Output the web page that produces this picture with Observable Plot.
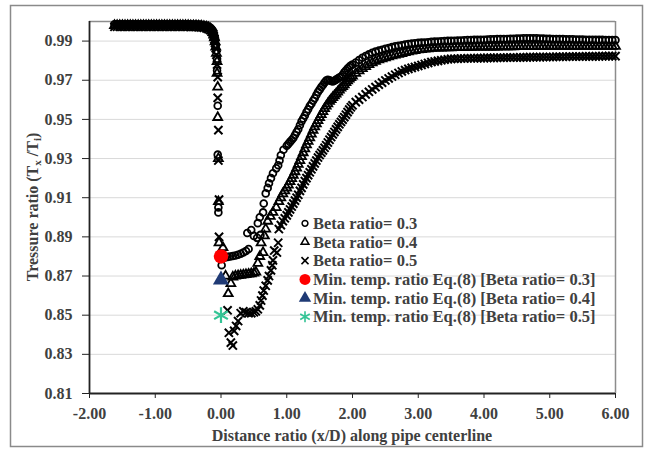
<!DOCTYPE html>
<html>
<head>
<meta charset="utf-8">
<script src="https://cdn.jsdelivr.net/npm/d3@7"></script>
<script src="https://cdn.jsdelivr.net/npm/@observablehq/plot@0.6"></script>
<style>
  html, body { margin: 0; padding: 0; background: #fff; }
</style>
</head>
<body>
<div id="chart"></div>
<script>
// ---------- data ----------
const xTicks = [-2, -1, 0, 1, 2, 3, 4, 5, 6];
const yTicks = [0.81, 0.83, 0.85, 0.87, 0.89, 0.91, 0.93, 0.95, 0.97, 0.99];

const seriesNames = ["Beta ratio= 0.3", "Beta ratio= 0.4", "Beta ratio= 0.5"];

// upstream plateau, shared x positions
const plateauX = [-1.62,-1.58,-1.54,-1.50,-1.46,-1.42,-1.38,-1.34,-1.30,-1.26,-1.22,-1.18,-1.14,-1.10,-1.06,-1.02,-0.98,-0.94,-0.90,-0.86,-0.82,-0.78,-0.74,-0.70,-0.66,-0.62,-0.58,-0.54,-0.50,-0.46,-0.42];
const plateauB03 = [0.9986,0.9986,0.9986,0.9986,0.9986,0.9986,0.9986,0.9986,0.9986,0.9986,0.9986,0.9986,0.9986,0.9986,0.9986,0.9986,0.9986,0.9986,0.9986,0.9986,0.9986,0.9986,0.9986,0.9986,0.9986,0.9986,0.9986,0.9986,0.9986,0.9986,0.9985];
const plateauB04 = [0.9980,0.9980,0.9980,0.9980,0.9980,0.9980,0.9980,0.9980,0.9980,0.9980,0.9980,0.9980,0.9980,0.9980,0.9980,0.9980,0.9980,0.9980,0.9980,0.9980,0.9980,0.9980,0.9980,0.9980,0.9980,0.9980,0.9980,0.9980,0.9980,0.9979,0.9979];
const plateauB05 = [0.9973,0.9973,0.9973,0.9973,0.9973,0.9973,0.9973,0.9973,0.9973,0.9973,0.9973,0.9973,0.9973,0.9973,0.9973,0.9973,0.9973,0.9973,0.9973,0.9973,0.9973,0.9973,0.9973,0.9973,0.9973,0.9973,0.9973,0.9973,0.9973,0.9972,0.9972];

// near the orifice: [x, y] pairs per series
const nearB03 = [[-0.38,0.9985],[-0.34,0.9984],[-0.30,0.9983],[-0.26,0.9981],[-0.22,0.9978],[-0.19,0.9974],[-0.16,0.9968],[-0.14,0.9960],[-0.12,0.9950],[-0.11,0.9938],[-0.10,0.9925],[-0.09,0.9905],[-0.08,0.9880],[-0.07,0.9850],[-0.06,0.9810],[-0.06,0.9750],[-0.05,0.9570],[-0.05,0.9320],[-0.04,0.9050],[-0.04,0.9025],
  [0.01,0.8755],[0.02,0.8790],[0.06,0.8795],[0.10,0.8798],[0.14,0.8800],[0.18,0.8802],[0.22,0.8805],[0.26,0.8809],[0.30,0.8814],[0.34,0.8820],[0.38,0.8828],[0.42,0.8838],[0.40,0.8920],[0.46,0.8935],[0.50,0.8905],[0.55,0.8895],[0.60,0.8910],[0.56,0.8970],[0.59,0.9000],[0.64,0.9025],[0.65,0.9070],[0.68,0.9122],[0.71,0.9150],[0.73,0.9174],[0.76,0.9200],[0.79,0.9225],[0.84,0.9250],[0.87,0.9266],[0.89,0.9290],[0.91,0.9317],[0.95,0.9345]];
const nearB04 = [[-0.38,0.9979],[-0.34,0.9978],[-0.30,0.9977],[-0.26,0.9975],[-0.22,0.9972],[-0.19,0.9968],[-0.16,0.9962],[-0.14,0.9954],[-0.12,0.9944],[-0.11,0.9931],[-0.10,0.9917],[-0.09,0.9897],[-0.08,0.9870],[-0.07,0.9838],[-0.06,0.9795],[-0.06,0.9735],[-0.05,0.9665],[-0.05,0.9510],[-0.04,0.9300],[-0.04,0.9080],[-0.03,0.8870],
  [0.03,0.8845],[0.07,0.8700],[0.11,0.8610],[0.15,0.8662],[0.18,0.8695],[0.22,0.8700],[0.26,0.8702],[0.30,0.8704],[0.34,0.8706],[0.38,0.8708],[0.42,0.8710],[0.46,0.8712],[0.50,0.8715],[0.53,0.8720],[0.56,0.8765],[0.59,0.8800],[0.64,0.8820],[0.61,0.8870],[0.66,0.8905],[0.68,0.8940],[0.71,0.8980],[0.75,0.9005],[0.79,0.9025],[0.84,0.9050],[0.88,0.9080],[0.91,0.9100],[0.94,0.9120],[0.97,0.9135]];
const nearB05 = [[-0.38,0.9972],[-0.34,0.9971],[-0.30,0.9970],[-0.26,0.9968],[-0.22,0.9965],[-0.19,0.9961],[-0.16,0.9955],[-0.14,0.9947],[-0.12,0.9937],[-0.11,0.9924],[-0.10,0.9909],[-0.09,0.9889],[-0.08,0.9863],[-0.07,0.9830],[-0.06,0.9780],[-0.05,0.9716],[-0.05,0.9610],[-0.04,0.9445],[-0.04,0.9290],[-0.03,0.9090],[-0.03,0.8900],
  [0.10,0.8525],[0.12,0.8410],[0.15,0.8360],[0.18,0.8345],[0.20,0.8420],[0.23,0.8445],[0.26,0.8470],[0.30,0.8510],[0.34,0.8520],[0.38,0.8515],[0.42,0.8510],[0.46,0.8510],[0.50,0.8515],[0.53,0.8520],[0.56,0.8530],[0.59,0.8550],[0.61,0.8575],[0.63,0.8600],[0.65,0.8626],[0.68,0.8650],[0.71,0.8678],[0.73,0.8700],[0.76,0.8729],[0.78,0.8755],[0.79,0.8780],[0.81,0.8830],[0.85,0.8820],[0.87,0.8870],[0.88,0.8940],[0.91,0.8960],[0.94,0.8980],[0.97,0.8995]];

// recovery region, shared x positions
const farX = [1.000,1.025,1.050,1.075,1.100,1.125,1.150,1.175,1.200,1.225,1.250,1.275,1.300,1.325,1.350,1.375,1.400,1.425,1.450,1.475,1.500,1.525,1.550,1.575,1.600,1.625,1.650,1.675,1.700,1.725,1.750,1.775,1.800,1.825,1.850,1.875,1.900,1.925,1.950,1.975,2.000,
  2.05,2.10,2.15,2.20,2.25,2.30,2.35,2.40,2.45,2.50,2.55,2.60,2.65,2.70,2.75,2.80,2.85,2.90,2.95,3.00,3.05,3.10,3.15,3.20,3.25,3.30,3.35,3.40,3.45,3.50,3.55,3.60,3.65,3.70,3.75,3.80,3.85,3.90,3.95,4.00,4.05,4.10,4.15,4.20,4.25,4.30,4.35,4.40,4.45,4.50,4.55,4.60,4.65,4.70,4.75,4.80,4.85,4.90,4.95,5.00,5.05,5.10,5.15,5.20,5.25,5.30,5.35,5.40,5.45,5.50,5.55,5.60,5.65,5.70,5.75,5.80,5.85,5.90,5.95,6.00];
const farB03 = [0.9365,0.9375,0.9385,0.9395,0.9405,0.9420,0.9435,0.9450,0.9470,0.9490,0.9505,0.9520,0.9538,0.9552,0.9568,0.9580,0.9595,0.9608,0.9625,0.9640,0.9652,0.9665,0.9676,0.9688,0.9698,0.9702,0.9700,0.9696,0.9694,0.9697,0.9703,0.9708,0.9714,0.9718,0.9728,0.9740,0.9750,0.9760,0.9768,0.9775,0.9780,
  0.9790,0.9803,0.9815,0.9824,0.9832,0.9840,0.9846,0.9851,0.9856,0.9861,0.9865,0.9869,0.9873,0.9876,0.9879,0.9882,0.9885,0.9887,0.9889,0.9891,0.9892,0.9893,0.9894,0.9896,0.9897,0.9898,0.9899,0.9900,0.9901,0.9902,
  0.9902,0.9903,0.9903,0.9904,0.9905,0.9905,0.9906,0.9906,0.9907,0.9907,0.9908,0.9909,0.9909,0.9910,0.9910,0.9911,0.9911,0.9912,0.9912,0.9913,
  0.9913,0.9914,0.9914,0.9914,0.9914,0.9914,0.9913,0.9913,0.9912,0.9912,0.9911,0.9911,0.9910,0.9910,0.9909,0.9909,0.9909,0.9908,0.9908,0.9908,
  0.9907,0.9907,0.9907,0.9906,0.9906,0.9906,0.9905,0.9905,0.9905,0.9905];
const farB04 = [0.9150,0.9165,0.9182,0.9198,0.9215,0.9233,0.9252,0.9271,0.9290,0.9310,0.9330,0.9350,0.9370,0.9388,0.9406,0.9425,0.9445,0.9462,0.9478,0.9494,0.9510,0.9525,0.9540,0.9555,0.9568,0.9580,0.9592,0.9602,0.9612,0.9621,0.9630,0.9640,0.9650,0.9660,0.9668,0.9677,0.9688,0.9697,0.9706,0.9714,0.9722,
  0.9735,0.9748,0.9760,0.9770,0.9780,0.9789,0.9797,0.9804,0.9810,0.9815,0.9820,0.9825,0.9829,0.9833,0.9837,0.9841,0.9845,0.9849,0.9852,0.9855,0.9857,0.9859,0.9861,0.9863,0.9864,0.9865,0.9865,0.9866,0.9866,0.9866,
  0.9867,0.9867,0.9867,0.9868,0.9868,0.9868,0.9869,0.9869,0.9869,0.9869,0.9870,0.9870,0.9870,0.9870,0.9871,0.9871,0.9871,0.9871,0.9871,0.9872,
  0.9872,0.9872,0.9872,0.9872,0.9872,0.9872,0.9872,0.9873,0.9873,0.9873,0.9873,0.9873,0.9873,0.9873,0.9873,0.9873,0.9873,0.9873,0.9873,0.9873,
  0.9873,0.9873,0.9873,0.9873,0.9873,0.9873,0.9873,0.9873,0.9873,0.9873];
const farB05 = [0.9010,0.9025,0.9040,0.9055,0.9070,0.9085,0.9100,0.9115,0.9135,0.9150,0.9168,0.9185,0.9200,0.9215,0.9230,0.9245,0.9260,0.9275,0.9290,0.9305,0.9318,0.9330,0.9342,0.9355,0.9368,0.9382,0.9396,0.9410,0.9423,0.9436,0.9449,0.9462,0.9475,0.9487,0.9499,0.9511,0.9524,0.9537,0.9550,0.9562,0.9572,
  0.9588,0.9601,0.9614,0.9628,0.9641,0.9653,0.9665,0.9677,0.9688,0.9699,0.9709,0.9719,0.9728,0.9737,0.9745,0.9752,0.9758,0.9763,0.9768,0.9773,0.9778,0.9783,0.9788,0.9793,0.9796,0.9799,0.9802,0.9805,0.9807,0.9809,
  0.9810,0.9810,0.9811,0.9811,0.9812,0.9812,0.9812,0.9813,0.9813,0.9813,0.9814,0.9814,0.9814,0.9815,0.9815,0.9815,0.9816,0.9816,0.9816,0.9816,
  0.9817,0.9817,0.9817,0.9818,0.9818,0.9818,0.9818,0.9819,0.9819,0.9819,0.9819,0.9820,0.9820,0.9820,0.9820,0.9821,0.9821,0.9821,0.9821,0.9821,
  0.9822,0.9822,0.9822,0.9822,0.9822,0.9823,0.9823,0.9823,0.9823,0.9823];

// minimum temperature ratio from Eq.(8)
const minLabels = ["Min. temp. ratio Eq.(8) [Beta ratio= 0.3]", "Min. temp. ratio Eq.(8) [Beta ratio= 0.4]", "Min. temp. ratio Eq.(8) [Beta ratio= 0.5]"];
const minX = [0.00, 0.00, 0.00];
const minY = [0.880, 0.868, 0.850];

// ---------- build tables ----------
function build(pY, near, fY) {
  return [
    ...plateauX.map((x, i) => ({x, y: pY[i]})),
    ...near.map(([x, y]) => ({x, y})),
    ...farX.map((x, i) => ({x, y: fY[i]}))
  ];
}
const s03 = build(plateauB03, nearB03, farB03);
const s04 = build(plateauB04, nearB04, farB04);
const s05 = build(plateauB05, nearB05, farB05);
const minData = minX.map((x, i) => ({x, y: minY[i], k: i}));

const FONT = "'Liberation Serif', 'Times New Roman', serif";
const TXT = "#404040";

const chart = Plot.plot({
  width: 647, height: 455,
  marginLeft: 89, marginRight: 32, marginTop: 21, marginBottom: 62,
  style: {fontFamily: FONT, fontSize: "16px", fontWeight: "bold", color: TXT, background: "#fff", overflow: "visible"},
  x: {domain: [-2, 6]},
  y: {domain: [0.81, 1.0]},
  marks: [
    Plot.gridY(yTicks.slice(1), {stroke: "#d9d9d9", strokeOpacity: 1, strokeWidth: 1}),
    Plot.ruleY([1.0], {stroke: "#8c8c8c", strokeWidth: 1.5}),
    Plot.ruleX([6], {stroke: "#8c8c8c", strokeWidth: 1.5}),
    Plot.dot(s03, {x: "x", y: "y", symbol: "circle", r: 3.4, stroke: "#000", strokeWidth: 1.8, fill: "none"}),
    Plot.dot(s04, {x: "x", y: "y", symbol: "triangle", r: 3.3, stroke: "#000", strokeWidth: 1.8, fill: "none"}),
    Plot.dot(s05, {x: "x", y: "y", symbol: "times", r: 3.8, stroke: "#000", strokeWidth: 2, fill: "none"}),
    Plot.dot(minData.filter(d => d.k === 0), {x: "x", y: "y", symbol: "circle", r: 7.2, fill: "#ff0000", stroke: "none"}),
    Plot.dot(minData.filter(d => d.k === 1), {x: "x", y: "y", symbol: "triangle", r: 6, fill: "#1f3a75", stroke: "none"}),
    Plot.dot(minData.filter(d => d.k === 2), {x: "x", y: "y", symbol: "asterisk", r: 7.5, stroke: "#33c495", strokeWidth: 2.2, fill: "none"}),
    Plot.axisX({ticks: xTicks, tickFormat: d => d.toFixed(2), tickSize: 5, tickPadding: 9, label: null, stroke: "#222"}),
    Plot.axisY({ticks: yTicks, tickFormat: d => d.toFixed(2), tickSize: 7, tickPadding: 10, label: null, stroke: "#222"}),
    Plot.ruleY([0.81], {stroke: "#222", strokeWidth: 1.8}),
    Plot.ruleX([-2], {stroke: "#222", strokeWidth: 1.8})
  ]
});
document.getElementById("chart").appendChild(chart);

// ---------- decorations: outer border, axis titles, legend ----------
const svg = d3.select(chart);
svg.insert("rect", ":first-child")
  .attr("x", 10.5).attr("y", 5.5).attr("width", 632).attr("height", 441)
  .attr("fill", "none").attr("stroke", "#8a8a8a").attr("stroke-width", 1.5);

const titles = svg.append("g").attr("font-family", FONT).attr("font-weight", "bold").attr("fill", TXT);
titles.append("text").attr("x", 352).attr("y", 441).attr("text-anchor", "middle").attr("font-size", 16)
  .text("Distance ratio (x/D) along pipe centerline");
const yl = titles.append("text").attr("transform", "translate(37.5,207) rotate(-90)")
  .attr("text-anchor", "middle").attr("font-size", 16);
yl.append("tspan").text("Tressure ratio (T");
yl.append("tspan").attr("font-size", 11).attr("dy", 3).text("x");
yl.append("tspan").attr("dy", -3).text(" /T");
yl.append("tspan").attr("font-size", 11).attr("dy", 3).text("i");
yl.append("tspan").attr("dy", -3).text(")");

const legendItems = [
  {label: seriesNames[0], sym: d3.symbolCircle, r: 2.9, fill: "none", stroke: "#000", sw: 1.5},
  {label: seriesNames[1], sym: d3.symbolTriangle, r: 2.9, fill: "none", stroke: "#000", sw: 1.5},
  {label: seriesNames[2], sym: d3.symbolTimes, r: 3.3, fill: "none", stroke: "#000", sw: 1.7},
  {label: minLabels[0], sym: d3.symbolCircle, r: 5.5, fill: "#ff0000", stroke: "none", sw: 0},
  {label: minLabels[1], sym: d3.symbolTriangle, r: 4.6, fill: "#1f3a75", stroke: "none", sw: 0},
  {label: minLabels[2], sym: d3.symbolAsterisk, r: 5.2, fill: "none", stroke: "#33c495", sw: 1.6}
];
const lg = svg.append("g").attr("font-family", FONT).attr("font-weight", "bold").attr("font-size", 16.5)
  .attr("fill", TXT).attr("text-anchor", "start");
legendItems.forEach((d, i) => {
  const cy = 223.3 + i * 18.7;
  lg.append("path")
    .attr("transform", `translate(305,${cy})`)
    .attr("d", d3.symbol(d.sym, Math.PI * d.r * d.r)())
    .attr("fill", d.fill).attr("stroke", d.stroke).attr("stroke-width", d.sw);
  lg.append("text").attr("x", 313).attr("y", cy + 5.5).attr("text-anchor", "start").text(d.label);
});
</script>
</body>
</html>
